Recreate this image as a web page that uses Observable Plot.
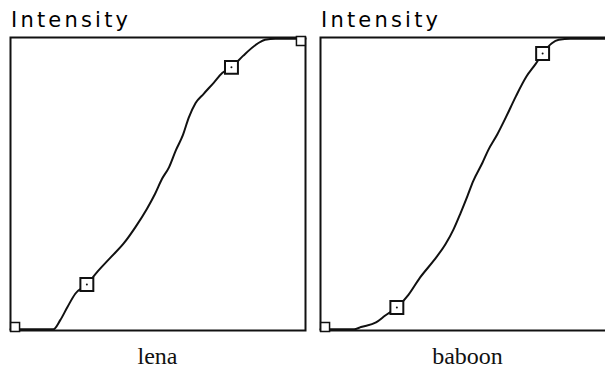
<!DOCTYPE html>
<html>
<head>
<meta charset="utf-8">
<script src="https://cdn.jsdelivr.net/npm/d3@7"></script>
<script src="https://cdn.jsdelivr.net/npm/@observablehq/plot@0.6"></script>
<style>
  html, body { margin: 0; padding: 0; background: #fff; overflow: hidden; }
  #root { position: relative; width: 605px; height: 372px; overflow: hidden; }
  .ttl { position: absolute; font-family: "DejaVu Sans", sans-serif; font-size: 21px; line-height: 21px; letter-spacing: 3.2px; color: #000; white-space: nowrap; }
  .cap { position: absolute; font-family: "Liberation Serif", serif; font-size: 24px; line-height: 24px; color: #111; white-space: nowrap; text-align: center; width: 200px; }
  .plot { position: absolute; }
</style>
</head>
<body>
<div id="root"></div>
<script>
// Panel names
const panelNames = ["lena", "baboon"];
const axisTitle = "Intensity";

// lena tone curve (input 0-255 -> output 0-255)
const lenaX = [0, 37, 43, 49, 56, 66, 75, 86, 98, 108, 118, 125, 131, 137, 143, 149, 154, 160, 167, 176, 183, 191, 201, 214, 220, 229, 255];
const lenaY = [1, 1, 9, 20, 32, 40, 51, 63, 76, 90, 106, 119, 132, 142, 157, 170, 185, 198, 206, 216, 224, 229, 239, 250, 253, 254, 254];
// lena control points
const lenaCtrlX = [66, 191];
const lenaCtrlY = [40, 229];
const lenaEndX = [4, 251];
const lenaEndY = [3, 252];

// baboon tone curve
const baboonX = [0, 29, 35, 48, 56, 66, 76, 86, 98, 108, 115, 121, 127, 132, 140, 145, 153, 160, 169, 178, 186, 192, 200, 206, 216, 255];
const baboonY = [1, 1, 3, 7, 13, 20, 31, 46, 61, 75, 88, 102, 117, 130, 146, 157, 171, 185, 204, 221, 232, 241, 250, 253, 254, 254];
// baboon control points
const baboonCtrlX = [66, 192];
const baboonCtrlY = [20, 241];
const baboonEndX = [4, 251];
const baboonEndY = [3, 252];

const zip = (xs, ys) => xs.map((x, i) => ({x, y: ys[i]}));

const panels = [
  {name: panelNames[0], curve: zip(lenaX, lenaY), ctrl: zip(lenaCtrlX, lenaCtrlY), ends: zip(lenaEndX, lenaEndY)},
  {name: panelNames[1], curve: zip(baboonX, baboonY), ctrl: zip(baboonCtrlX, baboonCtrlY), ends: zip(baboonEndX, baboonEndY)}
];

const root = document.getElementById("root");
const layout = [{left: 0}, {left: 310}];

panels.forEach((p, i) => {
  const L = layout[i].left;
  const svg = Plot.plot({
    width: 310,
    height: 305,
    marginLeft: 10,
    marginRight: 5,
    marginTop: 7,
    marginBottom: 5,
    x: {domain: [0, 255], axis: null},
    y: {domain: [0, 255], axis: null},
    style: {background: "transparent", overflow: "visible"},
    marks: [
      Plot.line(p.curve, {x: "x", y: "y", curve: "monotone-x", stroke: "#111", strokeWidth: 2}),
      Plot.frame({stroke: "#111", strokeWidth: 2}),
      Plot.dot(p.ends, {x: "x", y: "y", symbol: "square", r: 5, fill: "white", stroke: "#111", strokeWidth: 1.5}),
      Plot.dot(p.ctrl, {x: "x", y: "y", symbol: "square", r: 7.3, fill: "white", stroke: "#111", strokeWidth: 2}),
      Plot.dot(p.ctrl, {x: "x", y: "y", r: 1, fill: "#111", stroke: "none"})
    ]
  });
  svg.classList.add("plot");
  svg.style.left = L + "px";
  svg.style.top = "30px";
  root.appendChild(svg);

  const t = document.createElement("div");
  t.className = "ttl";
  t.textContent = axisTitle;
  t.style.left = (L + 11) + "px";
  t.style.top = "10px";
  root.appendChild(t);

  const c = document.createElement("div");
  c.className = "cap";
  c.textContent = p.name;
  c.style.left = (L + 157.5 - 100) + "px";
  c.style.top = "344px";
  root.appendChild(c);
});
</script>
</body>
</html>
